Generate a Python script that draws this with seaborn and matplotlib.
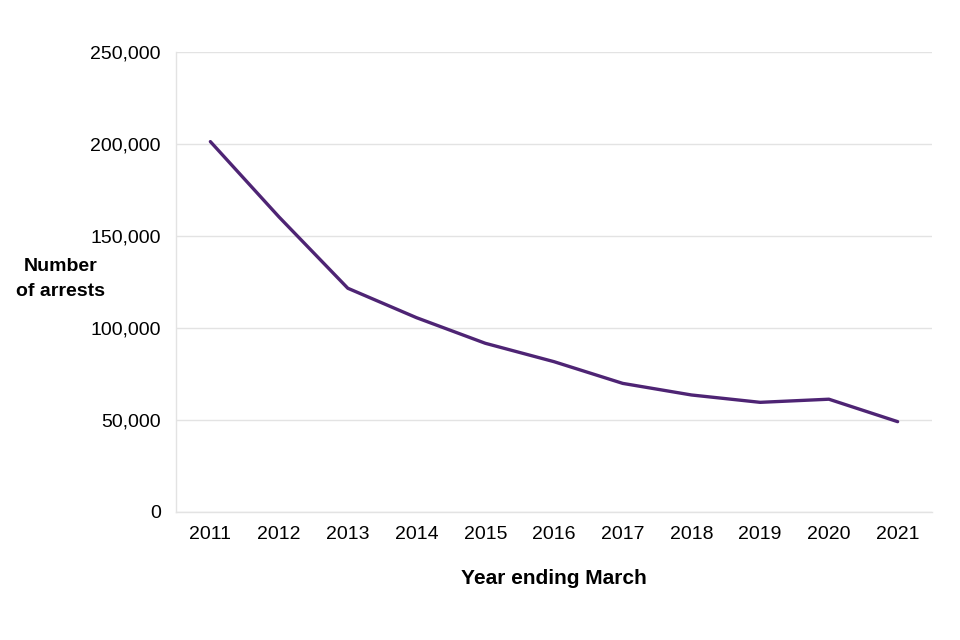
import matplotlib
matplotlib.use("Agg")
import matplotlib.pyplot as plt
import seaborn as sns
import pandas as pd
from matplotlib.ticker import FuncFormatter

years = ["2011", "2012", "2013", "2014", "2015", "2016", "2017", "2018", "2019", "2020", "2021"]
arrests = [201300, 160300, 121600, 105600, 91700, 81700, 69900, 63600, 59600, 61300, 49100]
y_ticks = [0, 50000, 100000, 150000, 200000, 250000]

sns.set_theme(style="white")
plt.rcParams['font.family'] = ['Liberation Sans', 'DejaVu Sans']
plt.rcParams['text.color'] = 'black'

df = pd.DataFrame({"year": years, "arrests": arrests})

fig = plt.figure(figsize=(9.6, 6.4), dpi=100)
ax = fig.add_axes([176/960, 1-512/640, (932-176)/960, (512-52)/640])

sns.lineplot(data=df, x="year", y="arrests", ax=ax, color="#4e2474", linewidth=2.4, sort=False)

ax.set_xlim(-0.5, len(years) - 0.5)
ax.set_ylim(0, 250000)
ax.set_yticks(y_ticks)
ax.yaxis.set_major_formatter(FuncFormatter(lambda v, p: f"{int(v):,}"))
ax.grid(axis="y", color="#e3e3e3", linewidth=1)
ax.set_axisbelow(True)
for s in ["top", "right"]:
    ax.spines[s].set_visible(False)
ax.spines["left"].set_color("#e3e3e3")
ax.spines["bottom"].set_color("#e3e3e3")
ax.spines["left"].set_linewidth(1)
ax.spines["bottom"].set_linewidth(1)
ax.tick_params(axis="both", length=0, labelsize=14, colors="black")
ax.tick_params(axis="y", pad=11)
ax.tick_params(axis="x", pad=10)

ax.set_xlabel("Year ending March", fontsize=15, fontweight="bold", labelpad=19, color="black")
ax.set_ylabel("")
fig.text(61/960, 1-279/640, "Number\nof arrests", fontsize=14, fontweight="bold",
         ha="center", va="center", linespacing=1.55, color="black")

fig.savefig("out.png", dpi=100, facecolor="white")
